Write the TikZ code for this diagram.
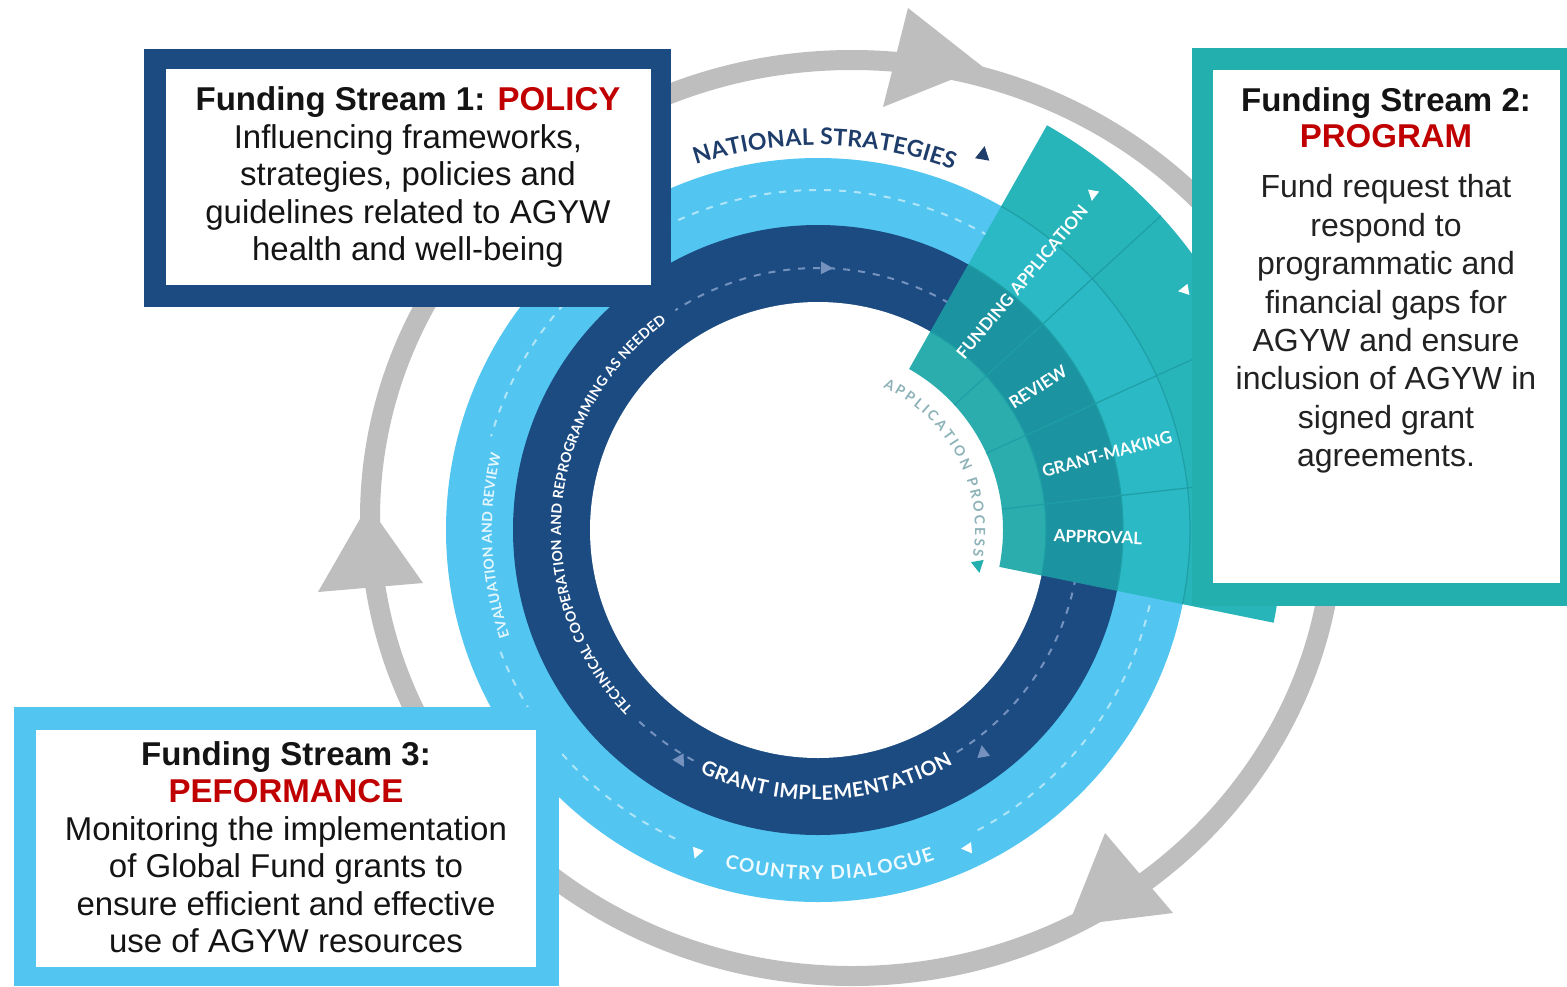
\documentclass[tikz,border=0pt]{standalone}
\usepackage{fontspec}
\setmainfont{Liberation Sans}
\newfontfamily\ringfont{Lato}
\usetikzlibrary{decorations.text}
\definecolor{navy}{HTML}{1C4B82}
\definecolor{lblue}{HTML}{52C6F1}
\definecolor{tealb}{HTML}{22AFAE}
\definecolor{grayc}{HTML}{BEBEBE}
\definecolor{redt}{HTML}{C00000}
\definecolor{navytxt}{HTML}{1E3D6B}
\definecolor{fanA}{HTML}{2BADAE}
\definecolor{fanB}{HTML}{1B93A1}
\definecolor{fanC}{HTML}{2BB9C5}
\definecolor{fanD}{HTML}{27B5BA}
\definecolor{fanL}{HTML}{1E9FA6}
\definecolor{dashnavy}{HTML}{7592BE}
\definecolor{apptxt}{HTML}{8DB2B8}
\definecolor{txt}{HTML}{141414}
\definecolor{txtb}{HTML}{222222}
\newcommand\annsec[5]{\fill[#1] ([shift={(#2:#5)}]C) arc[start angle=#2,end angle=#3,radius=#5] -- ([shift={(#3:#4)}]C) arc[start angle=#3,end angle=#2,radius=#4] -- cycle;}
\newcommand\tri[5]{\fill[#5,shift={(#1,#2)},rotate=#3] (#4,0) -- ({-0.5*#4},{0.8*#4}) -- ({-0.5*#4},{-0.8*#4}) -- cycle;}
\begin{document}
\begin{tikzpicture}[x=1pt,y=1pt,
  boxtext/.style={align=center,text=txt,inner sep=0pt,font=\fontsize{33}{37.5}\selectfont},
  fantext/.style={text=white,inner sep=0pt,font=\ringfont\bfseries\fontsize{17}{17}\selectfont},
  lbdash/.style={draw=white,draw opacity=0.55,line width=2pt,dash pattern=on 7pt off 8pt},
  nvdash/.style={draw=dashnavy,line width=2pt,dash pattern=on 7pt off 8pt},
  fanline/.style={draw=fanL,line width=1.2pt},
]
\useasboundingbox (0,0) rectangle (1567,-986);
\fill[white] (0,0) rectangle (1567,-986);
\coordinate (C) at (818,-530);

% gray cycle with arrowheads
\draw[grayc,line width=20pt] (852,-518) ellipse[x radius=482,y radius=458];
\fill[grayc] (983,-67) -- (908,-8) -- (883,-107) -- cycle;
\fill[grayc] (1068,-926) -- (1105,-833) -- (1173,-913) -- cycle;
\fill[grayc] (368,-505) -- (318,-592) -- (423,-583) -- cycle;

% rings
\fill[lblue] (C) circle[radius=372];
\fill[navy] (C) circle[radius=305];
\fill[white] (C) circle[radius=228];

% dashed guide lines
\draw[lbdash] ([shift={(60:340)}]C) arc[start angle=60,end angle=164,radius=340];
\draw[lbdash] ([shift={(201:340)}]C) arc[start angle=201,end angle=246,radius=340];
\draw[lbdash] ([shift={(298:340)}]C) arc[start angle=298,end angle=349,radius=340];
\draw[nvdash] ([shift={(60:262)}]C) arc[start angle=60,end angle=123,radius=262];
\draw[nvdash] ([shift={(227:262)}]C) arc[start angle=227,end angle=242,radius=262];
\draw[nvdash] ([shift={(302:262)}]C) arc[start angle=302,end angle=349,radius=262];
\tri{825}{-268}{-2}{8}{dashnavy}
\tri{680}{-760}{-60}{8}{dashnavy}
\tri{983}{-753}{100}{8}{dashnavy}
\tri{697}{-852}{-110}{7}{white}
\tri{968}{-848}{185}{7}{white}
\tri{983}{-155}{80}{9}{navytxt}

% ring labels
\path[decorate,decoration={text along path,text align=fit to path,text color=navytxt,
  text={|\ringfont\bfseries\fontsize{23}{23}\selectfont|NATIONAL STRATEGIES}}]
  ([shift={(108.5:385)}]C) arc[start angle=108.5,end angle=69.5,radius=385];
\path[decorate,decoration={text along path,text align=fit to path,text color=white!85!lblue,
  text={|\ringfont\bfseries\fontsize{14}{14}\selectfont|EVALUATION AND REVIEW}}]
  ([shift={(199:326)}]C) arc[start angle=199,end angle=166.5,radius=326];
\path[decorate,decoration={text along path,text align=fit to path,text color=white,
  text={|\ringfont\bfseries\fontsize{14}{14}\selectfont|TECHNICAL COOPERATION AND REPROGRAMMING AS NEEDED}}]
  ([shift={(224:257)}]C) arc[start angle=224,end angle=126,radius=257];
\path[decorate,decoration={text along path,text align=fit to path,text color=white,
  text={|\ringfont\bfseries\fontsize{20}{20}\selectfont|GRANT IMPLEMENTATION}}]
  ([shift={(244:270)}]C) arc[start angle=244,end angle=300,radius=270];
\path[decorate,decoration={text along path,text align=fit to path,text color=white!92!lblue,
  text={|\ringfont\bfseries\fontsize{19}{19}\selectfont|COUNTRY DIALOGUE}}]
  ([shift={(254.5:350)}]C) arc[start angle=254.5,end angle=289.5,radius=350];

% application fan
\annsec{fanA}{-11.5}{60.5}{185}{228}
\annsec{fanB}{-11.5}{60.5}{228}{305}
\annsec{fanC}{-11.5}{60.5}{305}{372}
\annsec{fanD}{-11.5}{60.5}{372}{465}
\foreach \a in {42.5,24.5,6.5}{\draw[fanline] ([shift={(\a:185)}]C) -- ([shift={(\a:465)}]C);}
\foreach \r in {228,305,372}{\draw[fanline] ([shift={(60.5:\r)}]C) arc[start angle=60.5,end angle=-11.5,radius=\r];}
\node[fantext,rotate=50] (fa) at (1022,-282) {FUNDING APPLICATION};
\node[fantext,rotate=33] (rv) at (1038,-387) {REVIEW};
\node[fantext,rotate=15] (gm) at (1107,-454) {GRANT-MAKING};
\node[fantext,rotate=-2] (ap) at (1098,-537) {APPROVAL};
\tri{1093}{-194}{-100}{7}{white}
\tri{1185}{-290}{190}{7}{white}

\path[decorate,decoration={text along path,text align=fit to path,text color=apptxt,
  text={|\ringfont\bfseries\fontsize{14}{14}\selectfont|APPLICATION PROCESS}}]
  ([shift={(65.5:157)}]C) arc[start angle=65.5,end angle=-9.5,radius=157];
\tri{978}{-565}{-80}{8}{tealb}

% boxes
\fill[navy] (144,-49) rectangle (671,-307);
\fill[white] (166,-69) rectangle (651,-285);
\fill[tealb] (1192,-48) rectangle (1567,-606);
\fill[white] (1213,-70) rectangle (1560,-583);
\fill[lblue] (14,-707) rectangle (559,-986);
\fill[white] (36,-730) rectangle (536,-967);

\node[boxtext] (s1) at (408,-177) {\textbf{Funding Stream 1: \textcolor{redt}{POLICY}}\\Influencing frameworks,\\strategies, policies and\\guidelines related to AGYW\\health and well-being};
\node[boxtext,font=\bfseries\fontsize{33}{36}\selectfont] (s2t) at (1386,-118) {Funding Stream 2:\\\textcolor{redt}{PROGRAM}};
\node[boxtext,text=txtb,font=\fontsize{32}{38.4}\selectfont] (s2b) at (1386,-324) {Fund request that\\respond to\\programmatic and\\financial gaps for\\AGYW and ensure\\inclusion of AGYW in\\signed grant\\agreements.};
\node[boxtext] (s3) at (286,-847) {\textbf{Funding Stream 3:}\\\textbf{\textcolor{redt}{PEFORMANCE}}\\Monitoring the implementation\\of Global Fund grants to\\ensure efficient and effective\\use of AGYW resources};
\end{tikzpicture}
\end{document}
